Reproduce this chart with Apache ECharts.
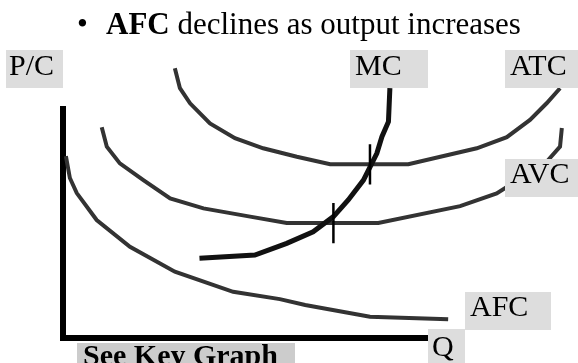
<!DOCTYPE html>
<html>
<head>
<meta charset="utf-8">
<script src="https://cdn.jsdelivr.net/npm/echarts@6/dist/echarts.min.js"></script>
<style>
  html, body { margin: 0; padding: 0; background: #fff; }
  #chart { width: 578px; height: 363px; }
</style>
</head>
<body>
<div id="chart"></div>
<script>
// Short-run cost curves: quantity (Q) against price / cost (P/C)
const atcPoints = [[3.09, 11.78], [3.23, 10.91], [3.51, 10.25], [4.06, 9.37], [4.75, 8.72],
  [5.53, 8.28], [6.46, 7.91], [7.38, 7.58], [9.54, 7.58], [11.43, 8.28], [12.26, 8.77],
  [12.90, 9.52], [13.36, 10.25], [13.73, 10.91]];
const avcPoints = [[1.07, 9.20], [1.21, 8.35], [1.57, 7.62], [2.22, 6.89], [2.96, 6.09],
  [3.88, 5.65], [5.17, 5.29], [6.18, 5.01], [8.71, 5.01], [10.97, 5.75], [11.98, 6.31],
  [13.36, 7.69], [13.73, 8.35], [13.78, 9.17]];
const afcPoints = [[0.08, 7.94], [0.19, 6.98], [0.38, 6.32], [0.93, 5.14], [1.85, 3.97],
  [3.09, 2.88], [4.70, 2.00], [5.99, 1.68], [6.69, 1.42], [8.48, 0.91], [10.64, 0.80]];
const mcPoints = [[3.77, 3.47], [5.30, 3.61], [6.18, 4.12], [6.91, 4.63], [7.47, 5.29],
  [7.88, 6.02], [8.30, 6.89], [8.67, 8.06], [8.81, 8.79], [8.99, 9.44], [9.03, 10.91]];

// MC crosses the minimum of ATC and of AVC
const crossQ = [8.48, 7.47];
const crossC = [7.58, 5.01];
const crossHalf = 0.88;

const titleText = 'AFC';
const titleRest = ' declines as output increases';

const curveGray = '#333333';
const labelFill = '#dddddd';
const serif = '"Liberation Serif", "Times New Roman", serif';

// Drawn axes span Q 0..10 and P/C 0..10; the curves run past them,
// so they sit on a second, larger grid with the same scale per unit.
const axisMax = 10;
const plotMaxQ = 14;
const plotMaxC = 13;
const unitX = 36.2;   // px per unit of Q
const unitY = 22.85;  // px per unit of P/C
const originX = 63, originY = 337.5;

function curve(name, data, color, width) {
  return {
    name, type: 'line', data, xAxisIndex: 1, yAxisIndex: 1,
    showSymbol: false, symbol: 'none', silent: true, animation: false,
    lineStyle: { color, width, join: 'miter' }
  };
}

const crossSeries = crossQ.map((q, i) => ({
  type: 'line', xAxisIndex: 1, yAxisIndex: 1,
  showSymbol: false, symbol: 'none', silent: true, animation: false,
  z: 5,
  data: [[q, crossC[i] + crossHalf], [q, crossC[i] - crossHalf]],
  lineStyle: { color: '#000', width: 2.5 }
}));

// Boxed curve labels
function boxLabel(text, x, y, w, h, tx, ty, fill, bold) {
  return [
    { type: 'rect', z: 100, shape: { x, y, width: w, height: h }, style: { fill: fill || labelFill } },
    { type: 'text', z: 101, x: tx, y: ty,
      style: { text, fill: '#000', font: (bold ? 'bold ' : '') + '30px ' + serif,
               align: 'left', verticalAlign: 'middle' } }
  ];
}

const graphics = [].concat(
  boxLabel('P/C', 6, 50, 57, 38, 9, 67),
  boxLabel('MC', 350, 50, 78, 38, 355, 67),
  boxLabel('ATC', 505, 50, 73, 38, 510, 67),
  boxLabel('AVC', 505, 159, 73, 38, 510, 175),
  boxLabel('AFC', 465, 292, 86, 38, 470, 308),
  boxLabel('Q', 428, 329, 37, 40, 432, 348),
  boxLabel('See Key Graph', 77, 343, 218, 30, 83, 357, '#cccccc', true),
  [
    { type: 'text', z: 101, x: 77, y: 26,
      style: { text: '•', fill: '#000', font: '31px ' + serif, verticalAlign: 'middle' } },
    { type: 'text', z: 101, x: 106, y: 26,
      style: { text: '{b|' + titleText + '}' + titleRest, fill: '#000', font: '31px ' + serif,
               verticalAlign: 'middle',
               rich: { b: { font: 'bold 31px ' + serif, fill: '#000' } } } }
  ]
);

const hiddenAxis = {
  type: 'value', axisLine: { show: false }, axisTick: { show: false },
  axisLabel: { show: false }, splitLine: { show: false }
};
const drawnAxisLine = { show: true, lineStyle: { color: '#000', width: 6, cap: 'square' } };

const chart = echarts.init(document.getElementById('chart'), null, { renderer: 'canvas' });
chart.setOption({
  backgroundColor: '#ffffff',
  animation: false,
  grid: [
    { left: originX, top: originY - axisMax * unitY, width: axisMax * unitX, height: axisMax * unitY },
    { left: originX, top: originY - plotMaxC * unitY, width: plotMaxQ * unitX, height: plotMaxC * unitY }
  ],
  xAxis: [
    Object.assign({}, hiddenAxis, { gridIndex: 0, min: 0, max: axisMax, axisLine: drawnAxisLine }),
    Object.assign({}, hiddenAxis, { gridIndex: 1, min: 0, max: plotMaxQ })
  ],
  yAxis: [
    Object.assign({}, hiddenAxis, { gridIndex: 0, min: 0, max: axisMax, axisLine: drawnAxisLine }),
    Object.assign({}, hiddenAxis, { gridIndex: 1, min: 0, max: plotMaxC })
  ],
  series: [
    curve('AFC', afcPoints, curveGray, 4),
    curve('AVC', avcPoints, curveGray, 4),
    curve('ATC', atcPoints, curveGray, 4),
    Object.assign(curve('MC', mcPoints, '#111111', 5), { z: 4 })
  ].concat(crossSeries),
  graphic: graphics
});
</script>
</body>
</html>
